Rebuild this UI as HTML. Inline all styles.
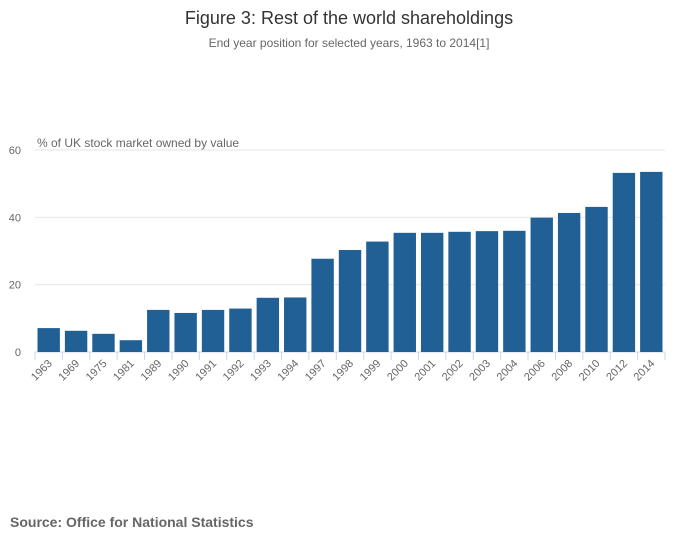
<!DOCTYPE html>
<html><head><meta charset="utf-8"><style>
body{margin:0;background:#fff;font-family:"Liberation Sans",sans-serif;}
</style></head><body>
<svg width="700" height="549" xmlns="http://www.w3.org/2000/svg">
<text x="349" y="24" text-anchor="middle" font-size="18" fill="#333">Figure 3: Rest of the world shareholdings</text>
<text x="349" y="47" text-anchor="middle" font-size="12" fill="#666">End year position for selected years, 1963 to 2014[1]</text>
<text x="37" y="147" font-size="12" fill="#666">% of UK stock market owned by value</text>
<g id="grid"></g><g id="bars"></g><g id="xlabels"></g>
<text x="10" y="527" font-size="14" font-weight="bold" fill="#666">Source: Office for National Statistics</text>
</svg>
<script>
const categories=["1963","1969","1975","1981","1989","1990","1991","1992","1993","1994","1997","1998","1999","2000","2001","2002","2003","2004","2006","2008","2010","2012","2014"];
const values=[7.1,6.3,5.4,3.5,12.5,11.6,12.5,12.9,16.1,16.2,27.7,30.3,32.8,35.4,35.4,35.7,35.9,36.0,39.9,41.3,43.1,53.2,53.5];
const yTicks=[0,20,40,60];
const NS="http://www.w3.org/2000/svg";
const x0=35,x1=665,y0=352,yTop=150,yMax=60;
const y=v=>y0-(y0-yTop)*v/yMax;
const band=(x1-x0)/categories.length;
const xp=i=>x0+band*i;
function mk(t,a,p){const e=document.createElementNS(NS,t);for(const k in a)e.setAttribute(k,a[k]);p.appendChild(e);return e;}
const g=document.getElementById('grid');
yTicks.forEach(t=>{
 const l=mk('line',{x1:x0,x2:x1,y1:y(t),y2:y(t),stroke:t===0?'#ccd6eb':'#e6e6e6'},g);
 
 
 const tx=mk('text',{x:21,y:y(t)+4,'text-anchor':'end','font-size':11,fill:'#666'},g);tx.textContent=t;
 
 
});
const b=document.getElementById('bars'),xl=document.getElementById('xlabels');
categories.forEach((c,i)=>{
 const r=mk('rect',{x:xp(i)+2.5,y:y(values[i]),width:band-5,height:y0-y(values[i]),fill:'#206095'},b);
 
 
 const tk=mk('line',{x1:xp(i),x2:xp(i),y1:y0,y2:y0+8,stroke:'#ccd6eb'},xl);
 
 
 const cx=xp(i)+band/2+4,cy=y0+12;
 const t=mk('text',{x:cx,y:cy,'text-anchor':'end','font-size':11,fill:'#666',transform:`rotate(-45 ${cx} ${cy})`},xl);
 t.textContent=c;
 
 
});
const lt=mk('line',{x1:x1,x2:x1,y1:y0,y2:y0+8,stroke:'#ccd6eb'},xl);


</script>
</body></html>
